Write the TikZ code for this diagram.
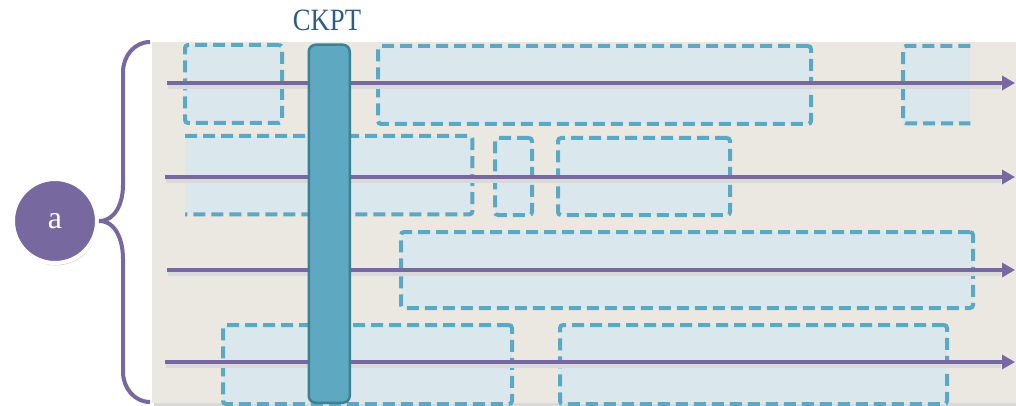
\documentclass[tikz,border=0pt]{standalone}
\usepackage{fontspec}
\setmainfont{Liberation Serif}
\usetikzlibrary{arrows.meta,shadows,calc}
\definecolor{panel}{HTML}{EAE8E1}
\definecolor{boxfill}{HTML}{DAE8EE}
\definecolor{boxline}{HTML}{5BA8C4}
\definecolor{barfill}{HTML}{5FA8C2}
\definecolor{barline}{HTML}{3F7F92}
\definecolor{purp}{HTML}{7868A0}
\definecolor{titleblue}{HTML}{2E5A8C}
\tikzset{
  boxstyle/.style={draw=boxline,fill=boxfill,line width=4pt,dash pattern=on 12pt off 6pt,rounded corners=3pt,inner sep=0pt,anchor=north west},
  boxfillonly/.style={fill=boxfill,inner sep=0pt,anchor=north west},
  boxedge/.style={draw=boxline,line width=4pt,dash pattern=on 12pt off 6pt,rounded corners=3pt},
  timeline/.style={draw=purp,line width=4.5pt,-{Triangle[length=13pt,width=14pt]}},
  lineshadow/.style={draw=black!15,line width=4.5pt},
  brace/.style={draw=purp,line width=4pt},
}
\begin{document}
\begin{tikzpicture}[x=1pt,y=-1pt]
\useasboundingbox (0,0) rectangle (1016,406);
% panel
\fill[black!15] (154,44) rectangle (1016,406);
\node[fill=panel,inner sep=0pt,anchor=north west,minimum width=864pt,minimum height=361pt] (panel) at (152,42) {};
% row 1 boxes
\node[boxstyle,minimum width=97pt,minimum height=78pt] (b1) at (183,43) {};
\node[boxstyle,minimum width=433pt,minimum height=78pt] (b2) at (376,44) {};
\node[boxfillonly,minimum width=67pt,minimum height=77pt] (b3) at (903,46) {};
\draw[boxedge] (b3.north east) -- (b3.north west) -- (b3.south west) -- (b3.south east);
% row 2 boxes
\node[boxfillonly,minimum width=287pt,minimum height=78pt] (b4) at (185,136) {};
\draw[boxedge] (b4.north west) -- (b4.north east) -- (b4.south east) -- (b4.south west);
\node[boxstyle,minimum width=37pt,minimum height=77pt] (b5) at (493,136) {};
\node[boxstyle,minimum width=172pt,minimum height=77pt] (b6) at (556,136) {};
% row 3
\node[boxstyle,minimum width=572pt,minimum height=76pt] (b7) at (399,230) {};
% row 4
\node[boxstyle,minimum width=289pt,minimum height=79pt] (b8) at (221,323) {};
\node[boxstyle,minimum width=387pt,minimum height=79pt] (b9) at (558,323) {};
% timelines
\coordinate (s1) at (167,83);  \coordinate (e1) at (1015,83);
\coordinate (s2) at (165,177); \coordinate (e2) at (1015,177);
\coordinate (s3) at (167,270); \coordinate (e3) at (1015,270);
\coordinate (s4) at (165,362); \coordinate (e4) at (1015,362);
\foreach \i in {1,...,4} {
  \draw[lineshadow] ($(s\i)+(1,3.5)$) -- ($(e\i)+(-14,3.5)$);
}
\foreach \i in {1,...,4} {
  \draw[timeline] (s\i) -- (e\i);
}
% checkpoint bar
\node[fill=barfill,draw=barline,line width=2.5pt,rounded corners=7pt,inner sep=0pt,minimum width=41pt,minimum height=358pt,anchor=north west] (bar) at (307.5,43.5) {};
\node[text=titleblue,font=\fontsize{31}{32}\selectfont,inner sep=0pt] (ckpt) at (327,20) {\scalebox{0.86}[1]{CKPT}};
% circle
\node[circle,fill=purp,draw=white,line width=4pt,minimum size=84pt,inner sep=0pt,text=white,font=\fontsize{32}{34}\selectfont,drop shadow={opacity=0.35,shadow xshift=1pt,shadow yshift=-2.5pt}] (a) at (55,221) {a};
% brace
\draw[brace] (150,42) to[out=180,in=90] (123,72) -- (123,185) to[out=-90,in=0] (a.east);
\draw[brace] (150,402) to[out=180,in=-90] (123,372) -- (123,259) to[out=90,in=0] (a.east);
\end{tikzpicture}
\end{document}
